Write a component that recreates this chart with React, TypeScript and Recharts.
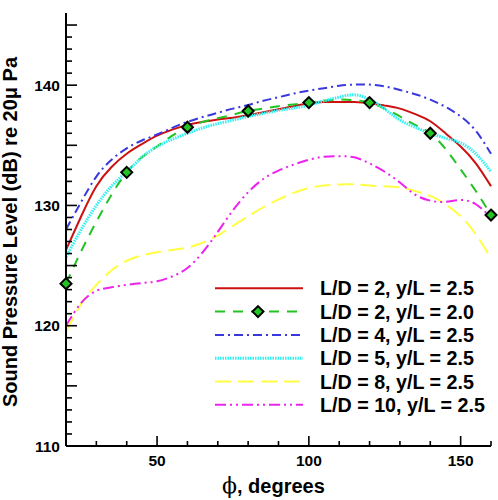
import { LineChart, Line, XAxis, YAxis } from 'recharts'

// plot frame (page pixels)
const W = 498
const H = 500
const PLOT_LEFT = 66
const PLOT_RIGHT = 491
const PLOT_TOP = 13
const PLOT_BOTTOM = 446
const Y_AXIS_W = 60
const X_AXIS_H = 30
const FONT = '"Liberation Sans", Arial, Helvetica, sans-serif'

// data (every 5 degrees)
const phi = [20, 25, 30, 35, 40, 45, 50, 55, 60, 65, 70, 75, 80, 85, 90, 95, 100, 105, 110, 115, 120, 125, 130, 135, 140, 145, 150, 155, 160]

const redSpl = [126.3, 129.1, 131.6, 133.2, 134.3, 135.1, 135.8, 136.3, 136.7, 136.95, 137.15, 137.3, 137.5, 137.75, 138.0, 138.25, 138.5, 138.6, 138.6, 138.6, 138.5, 138.3, 138.05, 137.6, 137.0, 136.0, 134.9, 133.5, 131.6]
const greenSpl = [123.5, 126.2, 128.65, 130.9, 132.75, 134.0, 134.9, 135.8, 136.5, 136.95, 137.25, 137.55, 137.85, 138.05, 138.25, 138.4, 138.55, 138.7, 138.8, 138.75, 138.55, 138.05, 137.4, 136.7, 136.0, 134.7, 133.0, 131.2, 129.2]
const greenMarkerPhi = [20, 40, 60, 80, 100, 120, 140, 160]
const blueSpl = [128.0, 130.3, 132.4, 133.8, 134.75, 135.4, 135.9, 136.45, 136.95, 137.35, 137.7, 138.05, 138.35, 138.7, 139.0, 139.3, 139.55, 139.75, 139.95, 140.05, 140.05, 139.9, 139.6, 139.25, 138.8, 138.2, 137.4, 136.2, 134.3]
const cyanSpl = [125.7, 128.0, 130.0, 131.6, 132.8, 134.0, 134.9, 135.5, 136.0, 136.45, 136.8, 137.1, 137.4, 137.65, 137.9, 138.1, 138.35, 138.7, 139.0, 139.2, 138.8, 138.0, 137.1, 136.5, 136.0, 135.6, 135.2, 134.3, 132.8]
const yellowSpl = [119.5, 121.8, 123.4, 124.6, 125.4, 125.85, 126.1, 126.3, 126.5, 126.9, 127.5, 128.3, 129.1, 129.85, 130.5, 131.05, 131.45, 131.65, 131.75, 131.75, 131.65, 131.6, 131.5, 131.2, 130.8, 130.1, 129.1, 127.6, 125.6]
const magentaSpl = [120.0, 121.9, 122.9, 123.2, 123.4, 123.55, 123.7, 124.1, 124.8, 126.1, 127.8, 129.6, 131.1, 132.2, 132.9, 133.4, 133.8, 134.05, 134.1, 134.0, 133.5, 132.8, 131.9, 130.9, 130.4, 130.3, 130.45, 130.1, 129.0]

const xTicks = [20, 30, 40, 50, 60, 70, 80, 90, 100, 110, 120, 130, 140, 150, 160]
const yTicks = Array.from({ length: 36 }, (_, i) => 110 + i)

const toPoints = (spl: number[], marks: number[] = []) =>
  phi.map((x, i) => ({ x, y: spl[i], m: marks.includes(x) }))

const series = [
  { name: 'L/D = 2, y/L = 2.5', data: toPoints(redSpl), color: '#cc1111', width: 2, dash: undefined, marker: false },
  { name: 'L/D = 2, y/L = 2.0', data: toPoints(greenSpl, greenMarkerPhi), color: '#22c322', width: 2, dash: '10 8', marker: true },
  { name: 'L/D = 4, y/L = 2.5', data: toPoints(blueSpl), color: '#3838dd', width: 2, dash: '9 4 2 4', marker: false },
  { name: 'L/D = 5, y/L = 2.5', data: toPoints(cyanSpl), color: '#33f0f0', width: 3, dash: '1.5 1', marker: false },
  { name: 'L/D = 8, y/L = 2.5', data: toPoints(yellowSpl), color: '#ffff44', width: 2, dash: '16 7', marker: false },
  { name: 'L/D = 10, y/L = 2.5', data: toPoints(magentaSpl), color: '#ee22ee', width: 2, dash: '11 4 2 4 2 4', marker: false },
]

const Diamond = ({ cx, cy }: { cx: number; cy: number }) => (
  <path
    d={`M${cx},${cy - 5.5} L${cx + 5.5},${cy} L${cx},${cy + 5.5} L${cx - 5.5},${cy} Z`}
    fill="#22c322"
    stroke="#000"
    strokeWidth={2}
  />
)

const YTick = ({ y, payload }: any) => {
  const v = payload.value
  const len = v % 5 === 0 ? 11 : 6
  return (
    <g>
      <line x1={PLOT_LEFT} x2={PLOT_LEFT + len} y1={y} y2={y} stroke="#000" strokeWidth={1.6} />
      {v % 10 === 0 && (
        <text x={PLOT_LEFT - 6} y={y + 5.5} textAnchor="end" fontSize={15.5} fontWeight="bold" fontFamily={FONT} fill="#000">
          {v}
        </text>
      )}
    </g>
  )
}

const XTick = ({ x, payload }: any) => {
  const v = payload.value
  const major = v % 50 === 0
  return (
    <g>
      <line x1={x} x2={x} y1={PLOT_BOTTOM} y2={PLOT_BOTTOM - (major ? 10 : 5)} stroke="#000" strokeWidth={1.6} />
      {major && (
        <text x={x} y={PLOT_BOTTOM + 20} textAnchor="middle" fontSize={15.5} fontWeight="bold" fontFamily={FONT} fill="#000">
          {v}
        </text>
      )}
    </g>
  )
}

const LEGEND_X1 = 215
const LEGEND_X2 = 303
const LEGEND_TEXT_X = 320
const LEGEND_Y0 = 288.3
const LEGEND_DY = 23.3

export default function App() {
  return (
    <div style={{ position: 'absolute', left: 0, top: 0, width: W, height: H, background: '#fff' }}>
      <LineChart
        width={W}
        height={H}
        margin={{ top: PLOT_TOP, right: W - PLOT_RIGHT, bottom: H - PLOT_BOTTOM - X_AXIS_H, left: PLOT_LEFT - Y_AXIS_W }}
      >
        <XAxis
          type="number"
          dataKey="x"
          domain={[20, 160]}
          ticks={xTicks}
          interval={0}
          height={X_AXIS_H}
          tickLine={false}
          tick={<XTick />}
          axisLine={{ stroke: '#000', strokeWidth: 2 }}
          allowDuplicatedCategory={false}
        />
        <YAxis
          type="number"
          domain={[110, 146]}
          ticks={yTicks}
          interval={0}
          width={Y_AXIS_W}
          tickLine={false}
          tick={<YTick />}
          axisLine={{ stroke: '#000', strokeWidth: 2 }}
        />
        {series.map((s) => (
          <Line
            key={s.name}
            data={s.data}
            dataKey="y"
            type="natural"
            stroke={s.color}
            strokeWidth={s.width}
            strokeDasharray={s.dash}
            isAnimationActive={false}
            dot={
              s.marker
                ? (p: any) => (p.payload.m ? <Diamond key={p.index} cx={p.cx} cy={p.cy} /> : <g key={p.index} />)
                : false
            }
            activeDot={false}
          />
        ))}
      </LineChart>
      <svg width={W} height={H} style={{ position: 'absolute', left: 0, top: 0, pointerEvents: 'none' }}>
        {series.map((s, i) => {
          const y = LEGEND_Y0 + i * LEGEND_DY
          return (
            <g key={s.name}>
              <line x1={LEGEND_X1} x2={LEGEND_X2} y1={y} y2={y} stroke={s.color} strokeWidth={s.width} strokeDasharray={s.dash} />
              {s.marker && <Diamond cx={(LEGEND_X1 + LEGEND_X2) / 2 - 1} cy={y} />}
              <text x={LEGEND_TEXT_X} y={y + 7} fontSize={19.7} fontWeight="bold" fontFamily={FONT} fill="#000">
                {s.name}
              </text>
            </g>
          )
        })}
        <text
          transform="translate(17,232) rotate(-90)"
          textAnchor="middle"
          fontSize={20}
          fontWeight="bold"
          fontFamily={FONT}
          fill="#000"
        >
          Sound Pressure Level (dB) re 20μ Pa
        </text>
        <text x={222} y={493} fontSize={20} fontWeight="bold" fontFamily={FONT} fill="#000">
          <tspan fontFamily='"DejaVu Serif", serif' fontWeight="normal" fontSize={22}>ϕ</tspan>
          <tspan>, degrees</tspan>
        </text>
      </svg>
    </div>
  )
}
